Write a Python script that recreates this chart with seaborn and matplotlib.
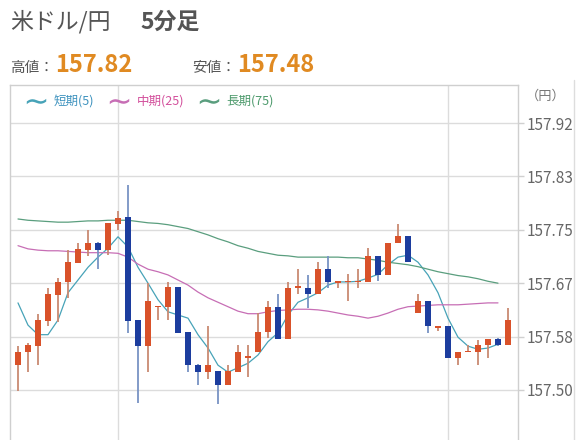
import numpy as np
import pandas as pd
import matplotlib
matplotlib.use("Agg")
import matplotlib.pyplot as plt
import seaborn as sns
from matplotlib.lines import Line2D

# 5-minute candles, USD/JPY
opens = [157.539, 157.559, 157.569, 157.609, 157.649, 157.670, 157.700, 157.720, 157.732, 157.720,
         157.761, 157.772, 157.610, 157.569, 157.630, 157.631, 157.662, 157.591, 157.540, 157.529,
         157.530, 157.508, 157.529, 157.551, 157.560, 157.591, 157.630, 157.580, 157.660, 157.661,
         157.651, 157.690, 157.669, 157.670, 157.670, 157.670, 157.711, 157.681, 157.731, 157.742,
         157.621, 157.640, 157.598, 157.600, 157.550, 157.559, 157.559, 157.570, 157.580, 157.570]
highs = [157.569, 157.574, 157.620, 157.660, 157.676, 157.720, 157.732, 157.752, 157.733, 157.763,
         157.782, 157.822, 157.610, 157.668, 157.632, 157.670, 157.662, 157.591, 157.541, 157.600,
         157.530, 157.539, 157.570, 157.570, 157.621, 157.640, 157.651, 157.670, 157.690, 157.681,
         157.701, 157.711, 157.672, 157.682, 157.690, 157.724, 157.711, 157.731, 157.761, 157.742,
         157.651, 157.640, 157.600, 157.600, 157.559, 157.570, 157.579, 157.580, 157.581, 157.629]
lows = [157.498, 157.529, 157.539, 157.600, 157.607, 157.645, 157.700, 157.711, 157.690, 157.712,
        157.751, 157.590, 157.479, 157.529, 157.610, 157.610, 157.589, 157.529, 157.508, 157.518,
        157.478, 157.508, 157.529, 157.521, 157.560, 157.582, 157.580, 157.580, 157.651, 157.629,
        157.651, 157.661, 157.661, 157.640, 157.661, 157.670, 157.671, 157.681, 157.731, 157.701,
        157.621, 157.589, 157.592, 157.550, 157.539, 157.559, 157.539, 157.550, 157.569, 157.570]
closes = [157.560, 157.570, 157.610, 157.651, 157.670, 157.701, 157.722, 157.732, 157.720, 157.762,
          157.771, 157.609, 157.569, 157.640, 157.632, 157.662, 157.590, 157.539, 157.529, 157.540,
          157.508, 157.530, 157.560, 157.554, 157.591, 157.631, 157.580, 157.661, 157.663, 157.651,
          157.690, 157.670, 157.671, 157.672, 157.672, 157.711, 157.681, 157.731, 157.743, 157.701,
          157.640, 157.600, 157.600, 157.550, 157.559, 157.561, 157.570, 157.580, 157.570, 157.610]

# moving averages (last candle not yet included)
ma5 = [157.637, 157.602, 157.587, 157.587, 157.610, 157.653, 157.673, 157.693, 157.709, 157.723,
       157.741, 157.725, 157.693, 157.668, 157.642, 157.623, 157.618, 157.613, 157.587, 157.566,
       157.539, 157.528, 157.535, 157.542, 157.555, 157.576, 157.590, 157.618, 157.638, 157.645,
       157.653, 157.665, 157.670, 157.670, 157.671, 157.676, 157.682, 157.697, 157.709, 157.712,
       157.701, 157.681, 157.653, 157.613, 157.583, 157.569, 157.564, 157.566, 157.572]
ma25 = [157.727, 157.722, 157.720, 157.719, 157.719, 157.718, 157.717, 157.716, 157.716, 157.716,
        157.715, 157.709, 157.698, 157.690, 157.686, 157.681, 157.673, 157.665, 157.654, 157.645,
        157.638, 157.631, 157.624, 157.620, 157.620, 157.623, 157.625, 157.626, 157.627, 157.627,
        157.626, 157.624, 157.621, 157.618, 157.616, 157.613, 157.616, 157.621, 157.627, 157.631,
        157.632, 157.633, 157.634, 157.634, 157.634, 157.635, 157.636, 157.637, 157.637]
ma75 = [157.769, 157.767, 157.766, 157.765, 157.764, 157.764, 157.765, 157.766, 157.766, 157.767,
        157.767, 157.767, 157.765, 157.763, 157.762, 157.760, 157.757, 157.754, 157.749, 157.744,
        157.738, 157.733, 157.727, 157.723, 157.718, 157.715, 157.712, 157.711, 157.709, 157.709,
        157.709, 157.709, 157.709, 157.708, 157.708, 157.706, 157.704, 157.701, 157.699, 157.697,
        157.694, 157.690, 157.686, 157.683, 157.680, 157.678, 157.675, 157.671, 157.668]

ma_labels = ["短期(5)", "中期(25)", "長期(75)"]
tick_vals = [157.50, 157.584, 157.668, 157.752, 157.836, 157.92]
tick_labels = ["157.50", "157.58", "157.67", "157.75", "157.83", "157.92"]
grid_x = [10, 43]

RED, BLUE = "#d9522a", "#1c3d9e"
RED_WICK, BLUE_WICK = "#c98a72", "#7893c4"
MA_COLORS = ["#47a3b8", "#c76eb5", "#5a9e7e"]
TEXT_COLORS = ["#3f93bf", "#d3509c", "#4d9a6c"]

sns.set_theme(style="white")
plt.rcParams["font.family"] = ["Noto Sans CJK JP", "DejaVu Sans"]

W, H = 576, 440
fig = plt.figure(figsize=(W / 100, H / 100), dpi=100)
ax = fig.add_axes([10 / W, 0, 508 / W, 355 / H])

df = pd.DataFrame({"idx": np.arange(len(opens)), "open": opens, "high": highs,
                   "low": lows, "close": closes})
up = df["close"] >= df["open"]

ma = pd.DataFrame({"idx": np.arange(len(ma5)), ma_labels[0]: ma5,
                   ma_labels[1]: ma25, ma_labels[2]: ma75})
ma_long = ma.melt(id_vars="idx", var_name="series", value_name="price")
sns.lineplot(data=ma_long, x="idx", y="price", hue="series", hue_order=ma_labels,
             palette=MA_COLORS, linewidth=0.9, legend=False, ax=ax, zorder=2)

ax.vlines(df["idx"], df["low"], df["high"],
          colors=np.where(up, RED_WICK, BLUE_WICK), linewidth=1.3, zorder=3)
body = (df["close"] - df["open"]).abs().clip(lower=0.0018)
ax.bar(df["idx"], body, bottom=df[["open", "close"]].min(axis=1), width=0.62,
       color=np.where(up, RED, BLUE), zorder=4, linewidth=0)

ax.set_xlim(-0.8, 50.0)
ax.set_ylim(157.4213, 157.9798)
ax.set_xticks(grid_x)
ax.set_xticklabels([])
ax.set_yticks(tick_vals)
ax.set_yticklabels(tick_labels)
ax.yaxis.tick_right()
ax.set_xlabel("")
ax.set_ylabel("")
ax.grid(True, color="#dcdcdc", linewidth=1.0)
ax.tick_params(axis="x", length=0)
ax.tick_params(axis="y", length=4, width=1, color="#d0d0d0", labelsize=11,
               labelcolor="#666666", pad=2)
for side in ["left", "right", "top"]:
    ax.spines[side].set_color("#cfcfcf")
    ax.spines[side].set_linewidth(1.0)
ax.spines["bottom"].set_visible(False)

handles = [Line2D([], [], linestyle="none", marker="$\\sim$", markersize=14,
                  markeredgewidth=0, color=c) for c in MA_COLORS]
leg = ax.legend(handles, ma_labels, loc="upper left", bbox_to_anchor=(0.012, 1.0),
                ncol=3, frameon=False, fontsize=9, handlelength=1.6,
                handletextpad=0.6, columnspacing=1.2, borderaxespad=0.4)
for t, c in zip(leg.get_texts(), TEXT_COLORS):
    t.set_color(c)

fig.text(546 / W, 1 - 96 / H, "（円）", ha="center", va="center", fontsize=9.5, color="#777777")
fig.add_artist(Line2D([574 / W, 574 / W], [0, 1 - 80 / H], color="#dddddd", lw=1))

fig.text(10 / W, 1 - 22 / H, "米ドル/円", ha="left", va="center", fontsize=16.5, color="#555555")
fig.text(140 / W, 1 - 22 / H, "5分足", ha="left", va="center", fontsize=16.5,
         fontweight="bold", color="#555555")
fig.text(10 / W, 1 - 72 / H, "高値：", ha="left", va="baseline", fontsize=10.5, color="#555555")
fig.text(55 / W, 1 - 72 / H, "157.82", ha="left", va="baseline", fontsize=17,
         fontweight="bold", color="#e08a22")
fig.text(192 / W, 1 - 72 / H, "安値：", ha="left", va="baseline", fontsize=10.5, color="#555555")
fig.text(237 / W, 1 - 72 / H, "157.48", ha="left", va="baseline", fontsize=17,
         fontweight="bold", color="#e08a22")

fig.savefig("out.png", dpi=100)
